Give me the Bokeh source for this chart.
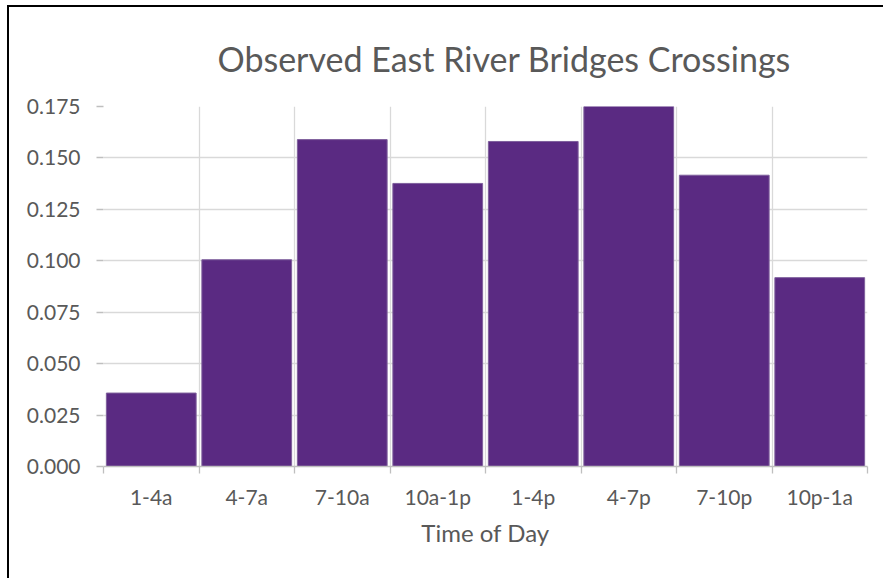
from bokeh.plotting import figure
from bokeh.models import Range1d, FixedTicker, NumeralTickFormatter
from bokeh.embed import file_html
from bokeh.resources import INLINE

categories = ["1-4a", "4-7a", "7-10a", "10a-1p", "1-4p", "4-7p", "7-10p", "10p-1a"]
share = [0.0357, 0.1005, 0.1589, 0.1376, 0.1580, 0.1750, 0.1416, 0.0918]
y_ticks = [0.0, 0.025, 0.05, 0.075, 0.1, 0.125, 0.15, 0.175]
title_text = "Observed East River Bridges Crossings"
x_label = "Time of Day"

n = len(categories)
centers = list(range(n))
bounds = [i - 0.5 for i in range(n + 1)]

TXT = "#595959"
GRID = "#D9D9D9"
TICK = "#BFBFBF"
FONT = "Lato"

p = figure(width=876, height=573, output_backend="svg", toolbar_location=None,
           x_range=Range1d(-0.5, n - 0.5), y_range=Range1d(0, y_ticks[-1]),
           min_border_left=94, min_border_right=18, min_border_top=98, min_border_bottom=114)
p.styles = {"border-left": "2px solid #000000", "border-top": "2px solid #000000",
            "margin-left": "7px", "margin-top": "5px"}
p.outline_line_color = None
p.background_fill_color = "white"
p.border_fill_color = "white"

p.title.text = title_text
p.title.align = "left"
p.title.text_font = FONT
p.title.text_font_size = "34px"
p.title.text_font_style = "normal"
p.title.text_color = TXT
p.title.offset = 114
p.title.standoff = 56

xt = FixedTicker(ticks=centers, minor_ticks=bounds)
p.xgrid.ticker = xt
p.xgrid.grid_line_color = None
p.xgrid.minor_grid_line_color = GRID
p.xgrid.minor_grid_line_width = 1.3
p.ygrid.ticker = FixedTicker(ticks=y_ticks)
p.ygrid.grid_line_color = GRID
p.ygrid.grid_line_width = 1.3

p.vbar(x=centers, top=share, bottom=0, width=0.94,
       fill_color="#5A2A82", line_color="#7E5F9C", line_width=1)

xa = p.xaxis[0]
xa.ticker = xt
xa.major_label_overrides = {c: lab for c, lab in zip(centers, categories)}
xa.major_tick_line_color = None
xa.major_tick_out = 0
xa.major_tick_in = 0
xa.minor_tick_line_color = TICK
xa.minor_tick_line_width = 1.3
xa.minor_tick_out = 7
xa.minor_tick_in = 0
xa.axis_line_color = TICK
xa.axis_line_width = 1.3
xa.major_label_standoff = 10
xa.major_label_text_font = FONT
xa.major_label_text_font_size = "21px"
xa.major_label_text_color = TXT
xa.axis_label = x_label
xa.axis_label_text_font = FONT
xa.axis_label_text_font_size = "24px"
xa.axis_label_text_font_style = "normal"
xa.axis_label_text_color = TXT
xa.axis_label_standoff = 6

ya = p.yaxis[0]
ya.ticker = FixedTicker(ticks=y_ticks)
ya.formatter = NumeralTickFormatter(format="0.000")
ya.axis_line_color = None
ya.major_tick_line_color = TICK
ya.major_tick_line_width = 1.3
ya.major_tick_out = 7
ya.major_tick_in = 0
ya.minor_tick_line_color = None
ya.major_label_standoff = 16
ya.major_label_text_font = FONT
ya.major_label_text_font_size = "21px"
ya.major_label_text_color = TXT

open("out.html", "w").write(file_html(p, INLINE))
